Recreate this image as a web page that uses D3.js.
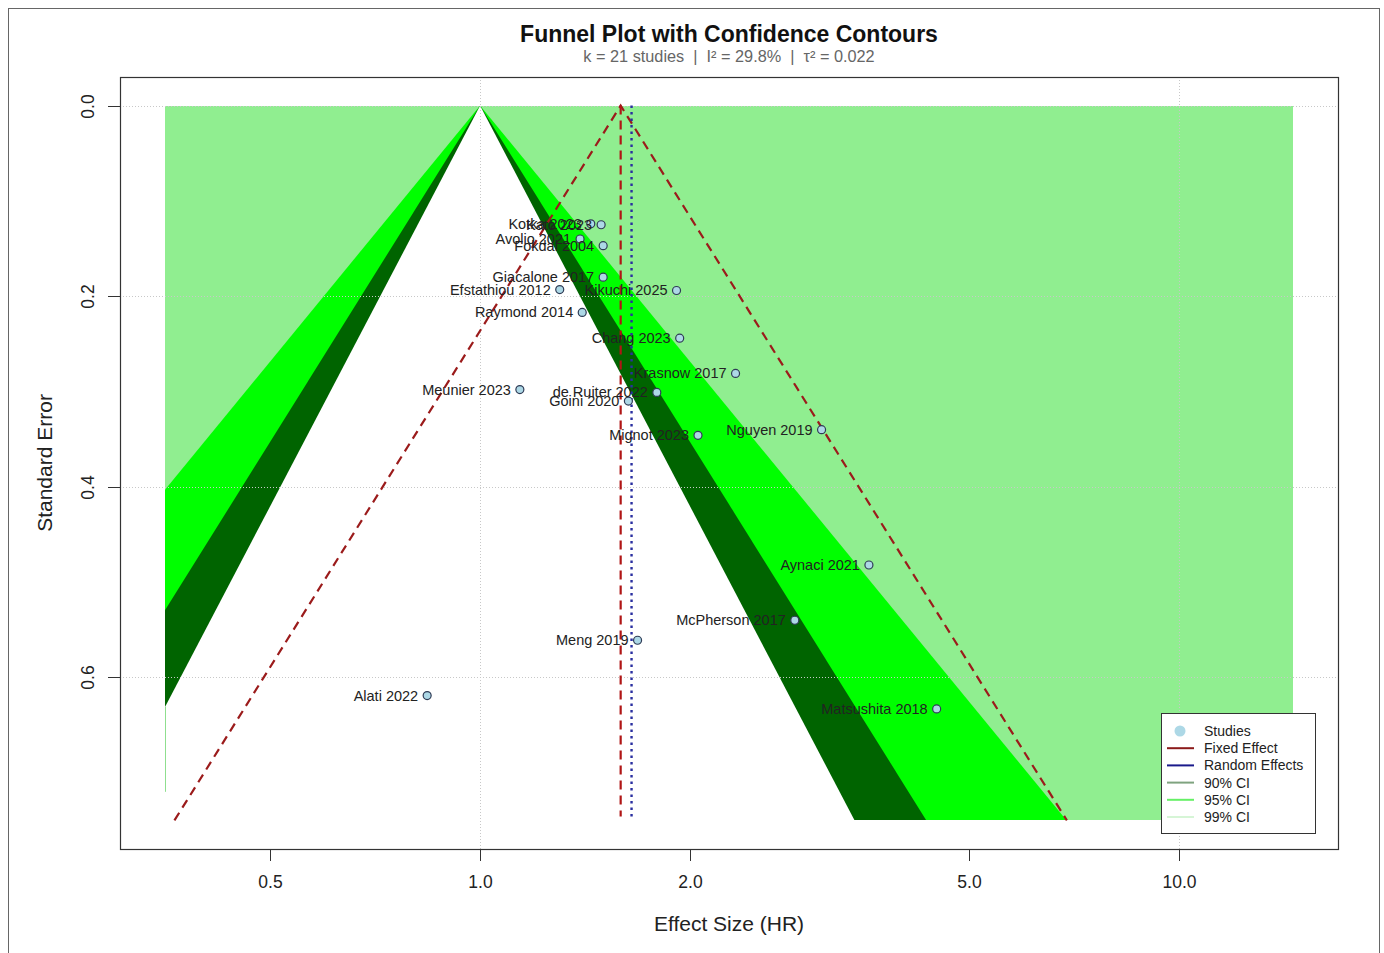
<!DOCTYPE html>
<html>
<head>
<meta charset="utf-8">
<script src="https://cdn.jsdelivr.net/npm/d3@7"></script>
<style>
  html, body { margin: 0; padding: 0; background: #fff; }
  svg { display: block; font-family: "Liberation Sans", Arial, Helvetica, sans-serif; }
</style>
</head>
<body>
<svg id="chart" width="1384" height="953"></svg>
<script>
// Study estimates: hazard ratio and standard error of log(HR)
const studyLabels = [
  "Kotka 2023", "Kato 2023", "Avolio 2021", "Fokdal 2004", "Giacalone 2017",
  "Efstathiou 2012", "Kikuchi 2025", "Raymond 2014", "Chang 2023", "Krasnow 2017",
  "Meunier 2023", "de Ruiter 2022", "Goini 2020", "Mignot 2023", "Nguyen 2019",
  "Aynaci 2021", "McPherson 2017", "Meng 2019", "Alati 2022", "Matsushita 2018"
];
const studyHR = [
  1.44, 1.49, 1.39, 1.50, 1.50,
  1.30, 1.91, 1.40, 1.93, 2.32,
  1.14, 1.79, 1.63, 2.05, 3.08,
  3.60, 2.82, 1.68, 0.84, 4.50
];
const studySE = [
  0.124, 0.125, 0.140, 0.147, 0.180,
  0.193, 0.194, 0.217, 0.244, 0.281,
  0.298, 0.301, 0.310, 0.346, 0.340,
  0.482, 0.540, 0.561, 0.619, 0.633
];

// Pooled estimates
const fixedHR = 1.589;
const randomHR = 1.647;

// Contour levels (two-sided z) and plotting range
const contourLevels = ["90% CI", "95% CI", "99% CI"];
const contourZ = [1.645, 1.96, 2.576];
const seMax = 0.75;
const hrRange = [0.3543, 14.55];

const xTicks = [0.5, 1, 2, 5, 10];
const yTicks = [0, 0.2, 0.4, 0.6];
const xGrid = [1, 10];

const titleText = "Funnel Plot with Confidence Contours";
const subtitleText = "k = 21 studies  |  I\u00B2 = 29.8%  |  \u03C4\u00B2 = 0.022";

// ---- layout ----
const svg = d3.select("#chart");
const box = { left: 120, right: 1338, top: 77, bottom: 849 };

// R-style 4% axis extension
const lnLo = Math.log(hrRange[0]), lnHi = Math.log(hrRange[1]);
const extX = 0.04 * (lnHi - lnLo);
const x = d3.scaleLog()
  .domain([Math.exp(lnLo - extX), Math.exp(lnHi + extX)])
  .range([box.left, box.right]);
const extY = 0.04 * seMax;
const y = d3.scaleLinear()
  .domain([-extY, seMax + extY])
  .range([box.top, box.bottom]);

// outer frame
svg.append("rect")
  .attr("x", 8.5).attr("y", 8.5).attr("width", 1371).attr("height", 960)
  .attr("fill", "none").attr("stroke", "#666").attr("stroke-width", 1);

// contour region, snapped to whole pixels
const rx0 = Math.round(x(hrRange[0])), rx1 = Math.round(x(hrRange[1]));
const ry0 = Math.round(y(0)), ry1 = Math.round(y(seMax));
const defs = svg.append("defs");
defs.append("clipPath").attr("id", "region")
  .append("rect")
  .attr("x", rx0).attr("y", ry0)
  .attr("width", rx1 - rx0).attr("height", ry1 - ry0);

const contourG = svg.append("g").attr("clip-path", "url(#region)");
contourG.append("rect")
  .attr("x", rx0).attr("y", ry0)
  .attr("width", rx1 - rx0).attr("height", ry1 - ry0)
  .attr("fill", "#90EE90");

// widest first: 99% (green), 95% (dark green), 90% (white);
// triangles run past the bottom edge so only the clip defines it
const fills = ["#FFFFFF", "#006400", "#00FF00"];
const seExt = seMax + 0.1;
[2, 1, 0].forEach(i => {
  const z = contourZ[i];
  const pts = [
    [x(Math.exp(-z * seExt)), y(seExt)],
    [x(1), y(0)],
    [x(Math.exp(z * seExt)), y(seExt)]
  ];
  contourG.append("polygon")
    .attr("points", pts.map(p => p.join(",")).join(" "))
    .attr("fill", fills[i]);
});

// thin sliver along the left edge below the 90% contour
const seEdge = -lnLo / contourZ[0];
svg.append("line")
  .attr("x1", rx0 + 0.5).attr("x2", rx0 + 0.5)
  .attr("y1", y(seEdge)).attr("y2", y(0.72))
  .attr("stroke", "#8fdf8f").attr("stroke-width", 1);

// grid
const gridG = svg.append("g");
yTicks.forEach(t => {
  gridG.append("line")
    .attr("x1", box.left).attr("x2", box.right)
    .attr("y1", Math.round(y(t)) + 0.5).attr("y2", Math.round(y(t)) + 0.5)
    .attr("stroke", "#c8c8c8").attr("stroke-width", 1).attr("stroke-dasharray", "1,2");
});
xGrid.forEach(t => {
  gridG.append("line")
    .attr("x1", Math.round(x(t)) + 0.5).attr("x2", Math.round(x(t)) + 0.5)
    .attr("y1", box.top).attr("y2", box.bottom)
    .attr("stroke", "#c8c8c8").attr("stroke-width", 1).attr("stroke-dasharray", "1,2");
});

// pseudo 95% confidence funnel around the fixed effect
const lnF = Math.log(fixedHR);
const funnelPts = [
  [x(Math.exp(lnF - 1.96 * seMax)), y(seMax)],
  [x(fixedHR), y(0)],
  [x(Math.exp(lnF + 1.96 * seMax)), y(seMax)]
];
svg.append("path")
  .attr("d", d3.line()(funnelPts))
  .attr("fill", "none").attr("stroke", "#9B1B1B").attr("stroke-width", 2.2)
  .attr("stroke-dasharray", "9,6");

// fixed and random effect lines
svg.append("line")
  .attr("x1", x(fixedHR)).attr("x2", x(fixedHR))
  .attr("y1", y(0)).attr("y2", y(seMax) - 4)
  .attr("stroke", "#B01515").attr("stroke-width", 2.2).attr("stroke-dasharray", "9,6");
svg.append("line")
  .attr("x1", x(randomHR)).attr("x2", x(randomHR))
  .attr("y1", y(0)).attr("y2", y(seMax) - 4)
  .attr("stroke", "#2A2FA0").attr("stroke-width", 2.4).attr("stroke-dasharray", "2.5,4");

// study points and labels
const pointsG = svg.append("g");
studyHR.forEach((hr, i) => {
  pointsG.append("circle")
    .attr("cx", x(hr)).attr("cy", y(studySE[i])).attr("r", 4)
    .attr("fill", "#ADD8E6").attr("stroke", "#2f3b55").attr("stroke-width", 1.2);
});
studyHR.forEach((hr, i) => {
  pointsG.append("text")
    .attr("x", x(hr) - 9).attr("y", y(studySE[i]) + 5)
    .attr("text-anchor", "end")
    .attr("font-size", 14.5).attr("fill", "#222")
    .text(studyLabels[i]);
});

// axes
const xAxisG = svg.append("g");
xTicks.forEach(t => {
  const px = Math.round(x(t)) + 0.5;
  xAxisG.append("line").attr("x1", px).attr("x2", px)
    .attr("y1", box.bottom).attr("y2", box.bottom + 12)
    .attr("stroke", "#333");
  xAxisG.append("text").attr("x", px).attr("y", 888)
    .attr("text-anchor", "middle").attr("font-size", 17.5).attr("fill", "#222")
    .text(d3.format(".1f")(t));
});
const yAxisG = svg.append("g");
yTicks.forEach(t => {
  const py = Math.round(y(t)) + 0.5;
  yAxisG.append("line").attr("x1", box.left - 12).attr("x2", box.left)
    .attr("y1", py).attr("y2", py).attr("stroke", "#333");
  yAxisG.append("text")
    .attr("transform", `translate(94,${py}) rotate(-90)`)
    .attr("text-anchor", "middle").attr("font-size", 17.5).attr("fill", "#222")
    .text(d3.format(".1f")(t));
});

// plot box
svg.append("rect")
  .attr("x", box.left + 0.5).attr("y", box.top + 0.5)
  .attr("width", box.right - box.left).attr("height", box.bottom - box.top)
  .attr("fill", "none").attr("stroke", "#333").attr("stroke-width", 1.2);

// axis titles
svg.append("text").attr("x", (box.left + box.right) / 2).attr("y", 931)
  .attr("text-anchor", "middle").attr("font-size", 21).attr("fill", "#222")
  .text("Effect Size (HR)");
svg.append("text")
  .attr("transform", `translate(52,${(box.top + box.bottom) / 2}) rotate(-90)`)
  .attr("text-anchor", "middle").attr("font-size", 21).attr("fill", "#222")
  .text("Standard Error");

// title
svg.append("text").attr("x", (box.left + box.right) / 2).attr("y", 42)
  .attr("text-anchor", "middle").attr("font-size", 23).attr("font-weight", "bold")
  .attr("fill", "#111").text(titleText);
svg.append("text").attr("x", (box.left + box.right) / 2).attr("y", 62)
  .attr("text-anchor", "middle").attr("font-size", 16.3).attr("fill", "#666")
  .style("white-space", "pre")
  .text(subtitleText);

// legend
const legendItems = [
  { label: "Studies", type: "point", color: "#ADD8E6" },
  { label: "Fixed Effect", type: "line", color: "#8B1A1A" },
  { label: "Random Effects", type: "line", color: "#1A1A8B" },
  { label: contourLevels[0], type: "line", color: "#7FA37F" },
  { label: contourLevels[1], type: "line", color: "#66F066" },
  { label: contourLevels[2], type: "line", color: "#D6F5D6" }
];
const lg = svg.append("g").attr("transform", "translate(1161,713)");
lg.append("rect").attr("x", 0.5).attr("y", 0.5).attr("width", 154).attr("height", 120)
  .attr("fill", "#fff").attr("stroke", "#333").attr("stroke-width", 1);
legendItems.forEach((d, i) => {
  const cy = 18 + i * 17.2;
  if (d.type === "point") {
    lg.append("circle").attr("cx", 19).attr("cy", cy).attr("r", 5.5).attr("fill", d.color);
  } else {
    lg.append("line").attr("x1", 6).attr("x2", 33).attr("y1", cy).attr("y2", cy)
      .attr("stroke", d.color).attr("stroke-width", 2);
  }
  lg.append("text").attr("x", 43).attr("y", cy + 5)
    .attr("font-size", 14).attr("fill", "#222").text(d.label);
});
</script>
</body>
</html>
